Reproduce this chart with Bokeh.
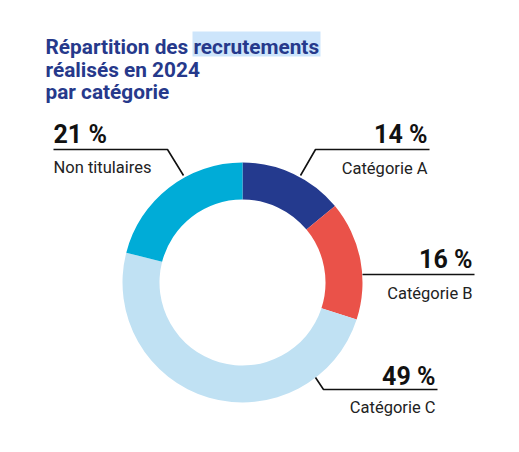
import numpy as np
from bokeh.plotting import figure
from bokeh.models import Range1d
from bokeh.core.properties import value
from bokeh.embed import file_html
from bokeh.resources import INLINE

# ---- data ----
categories = ["Catégorie A", "Catégorie B", "Catégorie C", "Non titulaires"]
shares = [14, 16, 49, 21]
pct_labels = ["14 %", "16 %", "49 %", "21 %"]
colors = ["#243a8e", "#ea5249", "#c0e1f3", "#00acd7"]
title_lines = ["Répartition des recrutements", "réalisés en 2024", "par catégorie"]

W, H = 519, 452
TXT_SHIFT = 6  # compensate baseline rendering offset
def Y(py):
    return H - py
def YT(py):
    return H - (py - TXT_SHIFT)

p = figure(width=W, height=H, output_backend="svg", toolbar_location=None,
           x_range=Range1d(0, W), y_range=Range1d(0, H), min_border=0)
p.axis.visible = False
p.grid.visible = False
p.outline_line_color = None
p.background_fill_color = "white"
p.border_fill_color = "white"

FONT = value("Roboto")

# title highlight and title
p.quad(left=[192], right=[320], bottom=[Y(56)], top=[Y(31)], fill_color="#cde5fb", line_color=None)
p.text(x=[45, 45, 45], y=[YT(52), YT(75), YT(97)], text=title_lines, text_font=FONT,
       text_font_size="20.8px", text_font_style="bold", text_color="#26398b",
       text_baseline="alphabetic", text_align="left")

# donut
cx, cy = 242, Y(282)
r_in, r_out = 83, 120
cum = np.cumsum([0] + shares) / sum(shares)
start = np.pi / 2 - 2 * np.pi * cum[:-1]
end = np.pi / 2 - 2 * np.pi * cum[1:]
p.annular_wedge(x=cx, y=cy, inner_radius=r_in, outer_radius=r_out,
                start_angle=start, end_angle=end, direction="clock",
                fill_color=colors, line_color=None)

# label layout (pixel positions)
layout = [
    dict(x=427, align="right", pb=140, cb=174, lx=[300, 315, 429], ly=[175, 149, 149]),
    dict(x=472, align="right", pb=265, cb=299, lx=[362, 474], ly=[274, 274]),
    dict(x=435, align="right", pb=382, cb=413, lx=[315, 323, 437], ly=[377, 389, 389]),
    dict(x=53, align="left", pb=140, cb=173, lx=[53, 167, 183], ly=[149, 149, 175]),
]
for i, L in enumerate(layout):
    p.line(x=L["lx"], y=[Y(v) for v in L["ly"]], line_color="#111111", line_width=1.6)
    p.text(x=[L["x"]], y=[YT(L["pb"])], text=[pct_labels[i]], text_font=FONT,
           text_font_size="25px", text_font_style="bold", text_color="#111111",
           text_baseline="alphabetic", text_align=L["align"])
    p.text(x=[L["x"]], y=[YT(L["cb"])], text=[categories[i]], text_font=FONT,
           text_font_size="16.5px", text_color="#222222",
           text_baseline="alphabetic", text_align=L["align"])

open("out.html", "w").write(file_html(p, INLINE))
